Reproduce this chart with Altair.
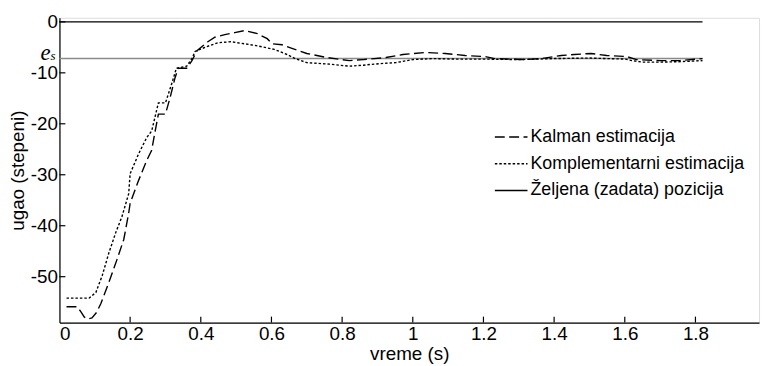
import altair as alt
import pandas as pd

# ---- data ----
t_kalman = [0.02, 0.05, 0.06, 0.07, 0.08, 0.092, 0.105, 0.117, 0.14, 0.163, 0.182, 0.196, 0.2,
            0.224, 0.247, 0.261, 0.271, 0.28, 0.30, 0.313, 0.327, 0.336, 0.36, 0.375,
            0.39, 0.42, 0.44, 0.468, 0.496, 0.524, 0.56, 0.588, 0.602, 0.63, 0.658,
            0.70, 0.756, 0.82, 0.86, 0.924, 0.972, 1.036, 1.092, 1.148, 1.204, 1.232,
            1.316, 1.364, 1.42, 1.457, 1.504, 1.549, 1.605, 1.633, 1.70, 1.756, 1.82]
v_kalman = [-55.9, -55.9, -56.8, -57.9, -58.3, -58.1, -57.0, -55.3, -51.1, -46.6, -42.7, -37.5, -35.6,
            -31.1, -27.2, -25.2, -21.4, -18.1, -18.1, -14.9, -11.0, -9.1, -9.1, -7.6,
            -5.6, -3.9, -3.0, -2.5, -2.1, -1.7, -2.3, -3.3, -4.3, -4.5, -5.2,
            -6.2, -7.0, -7.6, -7.4, -7.0, -6.4, -6.0, -6.2, -6.6, -6.8, -7.2,
            -7.4, -7.2, -6.6, -6.4, -6.2, -6.6, -6.8, -7.4, -7.6, -7.6, -7.2]

t_komp = [0.02, 0.047, 0.084, 0.103, 0.121, 0.14, 0.159, 0.177, 0.196, 0.2, 0.224,
          0.247, 0.261, 0.28, 0.30, 0.317, 0.331, 0.36, 0.375, 0.384, 0.415, 0.448,
          0.485, 0.524, 0.56, 0.608, 0.644, 0.667, 0.70, 0.765, 0.82, 0.86, 0.905,
          0.952, 1.0, 1.056, 1.12, 1.2, 1.3, 1.4, 1.5, 1.6, 1.62, 1.65, 1.7, 1.76, 1.82]
v_komp = [-54.2, -54.2, -54.2, -53.1, -49.8, -45.3, -41.4, -38.2, -33.7, -29.8, -25.9,
          -22.7, -21.4, -15.9, -15.9, -12.3, -9.1, -8.7, -7.2, -5.8, -4.9, -4.1,
          -3.9, -4.3, -4.7, -5.4, -6.4, -7.2, -8.0, -8.3, -8.7, -8.5, -8.2,
          -8.0, -7.4, -7.2, -7.3, -7.3, -7.4, -7.2, -7.1, -7.3, -7.6, -7.9, -7.9, -7.8, -7.6]

t_ref = [0.0, 1.82]
v_ref = [0.0, 0.0]

t_es = [0.0, 1.82]
v_es = [-7.2, -7.2]

series_names = ["Kalman estimacija", "Komplementarni estimacija", "Željena (zadata) pozicija"]

x_ticks = [0, 0.2, 0.4, 0.6, 0.8, 1, 1.2, 1.4, 1.6, 1.8]
y_ticks = [0, -10, -20, -30, -40, -50]

# ---- tables ----
lines = pd.concat([
    pd.DataFrame({"t": t_kalman, "v": v_kalman, "s": series_names[0]}),
    pd.DataFrame({"t": t_komp, "v": v_komp, "s": series_names[1]}),
    pd.DataFrame({"t": t_ref, "v": v_ref, "s": series_names[2]}),
], ignore_index=True)
es_df = pd.DataFrame({"t": t_es, "v": v_es})
es_lbl = pd.DataFrame({"v": [v_es[0]]})
xt_df = pd.DataFrame({"t": x_ticks[1:]})
yt_df = pd.DataFrame({"v": y_ticks})

W, H = 707, 308
FONT = "Liberation Sans"

xscale = alt.Scale(domain=[0, 1.98], nice=False, zero=False)
yscale = alt.Scale(domain=[-59, 0.8], nice=False, zero=False)

xaxis = alt.Axis(values=x_ticks, title="vreme (s)", labelExpr="'' + datum.value",
                 grid=False, ticks=False, domainColor="black", domainWidth=1.2,
                 labelColor="black", titleColor="black", labelFontSize=19,
                 titleFontSize=19, titleFontWeight="normal", labelFont=FONT,
                 titleFont=FONT, labelPadding=2, titlePadding=1)
yaxis = alt.Axis(values=y_ticks, title="ugao (stepeni)", labelExpr="'' + datum.value",
                 grid=False, ticks=False, domainColor="black", domainWidth=1.2,
                 labelColor="black", titleColor="black", labelFontSize=19,
                 titleFontSize=19, titleFontWeight="normal", labelFont=FONT,
                 titleFont=FONT, labelPadding=2, titlePadding=3)

es_line = alt.Chart(es_df).mark_line(color="#8a8a8a", strokeWidth=1.6).encode(
    x=alt.X("t:Q", scale=xscale, axis=xaxis),
    y=alt.Y("v:Q", scale=yscale, axis=yaxis),
)

main = alt.Chart(lines).mark_line(color="black", strokeWidth=1.4).encode(
    x=alt.X("t:Q", scale=xscale),
    y=alt.Y("v:Q", scale=yscale),
    strokeDash=alt.StrokeDash(
        "s:N",
        scale=alt.Scale(domain=series_names, range=[[10, 4.5], [2.5, 2], [1, 0]]),
        legend=alt.Legend(title=None, orient="none", legendX=439, legendY=103,
                          symbolType="stroke", symbolSize=1089, symbolStrokeWidth=1.4,
                          symbolStrokeColor="black", labelFontSize=18, labelFont=FONT,
                          labelColor="black", labelOffset=2, rowPadding=-11,
                          labelLimit=400, padding=0),
    ),
    order=alt.Order("t:Q"),
)

xt = alt.Chart(xt_df).mark_rule(color="black", strokeWidth=1.2).encode(
    x=alt.X("t:Q", scale=xscale), y=alt.value(H), y2=alt.value(H - 6))
yt = alt.Chart(yt_df).mark_rule(color="black", strokeWidth=1.2).encode(
    y=alt.Y("v:Q", scale=yscale), x=alt.value(0), x2=alt.value(6))

e_txt = alt.Chart(es_lbl).mark_text(text="e", font="Liberation Serif", fontStyle="italic",
                                     fontSize=23, align="right", baseline="alphabetic",
                                     dy=1, color="black").encode(
    y=alt.Y("v:Q", scale=yscale), x=alt.value(-9))
s_txt = alt.Chart(es_lbl).mark_text(text="s", font="Liberation Serif", fontStyle="italic",
                                     fontSize=13, align="left", baseline="alphabetic",
                                     dy=1, color="black").encode(
    y=alt.Y("v:Q", scale=yscale), x=alt.value(-9))

chart = alt.layer(es_line, main, xt, yt, e_txt, s_txt).properties(
    width=W, height=H,
    padding={"left": 52, "top": 8, "right": 4, "bottom": 42},
    autosize=alt.AutoSizeParams(type="none"),
).configure_view(stroke=None).configure(background="white")

chart.save("out.html", embed_options={"renderer": "svg", "actions": False})
